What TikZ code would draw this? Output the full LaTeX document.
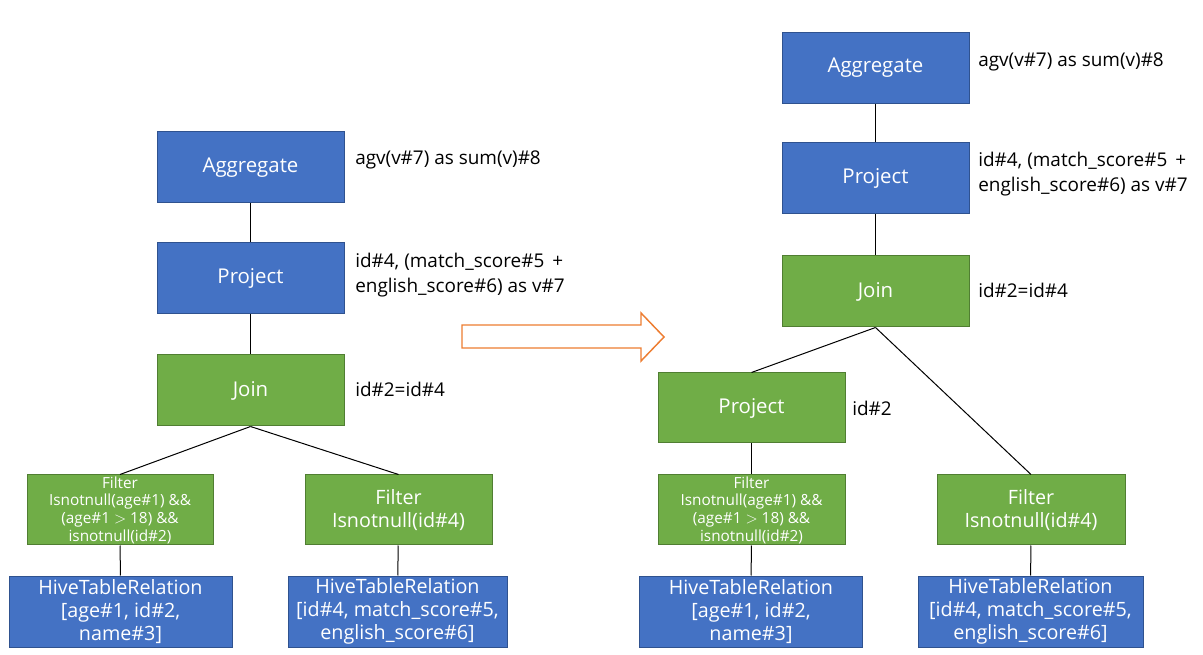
\documentclass[tikz,border=0pt]{standalone}
\usepackage{fontspec}
\setmainfont{Open Sans}
\definecolor{bfill}{HTML}{4472C4}
\definecolor{bdraw}{HTML}{2F528F}
\definecolor{gfill}{HTML}{70AD47}
\definecolor{gdraw}{HTML}{507E32}
\definecolor{aor}{HTML}{ED7D31}
\begin{document}
\begin{tikzpicture}[x=0.75pt,y=-0.75pt,
  base/.style={rectangle,inner sep=0pt,text=white,align=center,line width=0.75pt,font=\fontsize{14.8}{17.5}\selectfont},
  bluebox/.style={base,fill=bfill,draw=bdraw},
  greenbox/.style={base,fill=gfill,draw=gdraw},
  big/.style={minimum width=140.25pt,minimum height=53.25pt,font=\fontsize{15.3}{17.5}\selectfont},
  small/.style={font=\fontsize{11.5}{13.3}\selectfont},
  lbl/.style={anchor=west,align=left,inner sep=0pt,font=\fontsize{14.2}{18.75}\selectfont},
  conn/.style={line width=0.75pt,draw=black}]
\useasboundingbox (0,0) rectangle (1203,655);
% left tree
\node[bluebox,big] (agg1) at (250.5,167.5) {Aggregate};
\node[bluebox,big] (proj1) at (250.5,278.5) {Project};
\node[greenbox,big] (join1) at (250.5,390.5) {Join};
\node[greenbox,minimum width=139.5pt,minimum height=52.5pt,small] (fa1) at (120,510) {Filter\\Isnotnull(age\#1) \&\&\\(age\#1 $>$ 18) \&\&\\isnotnull(id\#2)};
\node[greenbox,minimum width=140.25pt,minimum height=52.5pt] (fb1) at (398.5,510) {Filter\\Isnotnull(id\#4)};
\node[bluebox,minimum width=167.25pt,minimum height=53.25pt] (ha1) at (120.5,611.5) {HiveTableRelation\\{}[age\#1, id\#2,\\name\#3]};
\node[bluebox,minimum width=164.25pt,minimum height=53.25pt] (hb1) at (397.5,611.5) {HiveTableRelation\\{}[id\#4, match\_score\#5,\\english\_score\#6]};
\node[lbl] (l1) at (355,160) {agv(v\#7) as sum(v)\#8};
\node[lbl] (l2) at (355,275) {id\#4, (match\_score\#5 \,+\\english\_score\#6) as v\#7};
\node[lbl] (l3) at (355,389) {id\#2=id\#4};
\draw[conn] (agg1) -- (proj1);
\draw[conn] (proj1) -- (join1);
\draw[conn] (join1.south) -- (fa1.north);
\draw[conn] (join1.south) -- (fb1.north);
\draw[conn] (fa1) -- (ha1);
\draw[conn] (fb1) -- (hb1);
% arrow
\draw[draw=aor,fill=white,line width=1.1pt,line join=miter] (462,325) -- (641,325) -- (641,313) -- (664,337) -- (641,361) -- (641,348) -- (462,348) -- cycle;
% right tree
\node[bluebox,big] (agg2) at (875.5,68) {Aggregate};
\node[bluebox,big] (proj2) at (875.5,178.5) {Project};
\node[greenbox,big] (join2) at (875.5,291.5) {Join};
\node[greenbox,minimum width=140.25pt,minimum height=52.5pt,font=\fontsize{15.3}{17.5}\selectfont] (proj3) at (751.5,408) {Project};
\node[greenbox,minimum width=140.25pt,minimum height=52.5pt,small] (fa2) at (751.5,510) {Filter\\Isnotnull(age\#1) \&\&\\(age\#1 $>$ 18) \&\&\\isnotnull(id\#2)};
\node[greenbox,minimum width=141pt,minimum height=52.5pt] (fb2) at (1031,510) {Filter\\Isnotnull(id\#4)};
\node[bluebox,minimum width=167.25pt,minimum height=53.25pt] (ha2) at (751,611.5) {HiveTableRelation\\{}[age\#1, id\#2,\\name\#3]};
\node[bluebox,minimum width=168.75pt,minimum height=53.25pt] (hb2) at (1030.5,611.5) {HiveTableRelation\\{}[id\#4, match\_score\#5,\\english\_score\#6]};
\node[lbl] (r1) at (978,62) {agv(v\#7) as sum(v)\#8};
\node[lbl] (r2) at (978,174.5) {id\#4, (match\_score\#5 \,+\\english\_score\#6) as v\#7};
\node[lbl] (r3) at (978,290) {id\#2=id\#4};
\node[lbl] (r4) at (852,408) {id\#2};
\draw[conn] (agg2) -- (proj2);
\draw[conn] (proj2) -- (join2);
\draw[conn] (join2.south) -- (proj3.north);
\draw[conn] (join2.south) -- (fb2.north);
\draw[conn] (proj3) -- (fa2);
\draw[conn] (fa2) -- (ha2);
\draw[conn] (fb2) -- (hb2);
\end{tikzpicture}
\end{document}
